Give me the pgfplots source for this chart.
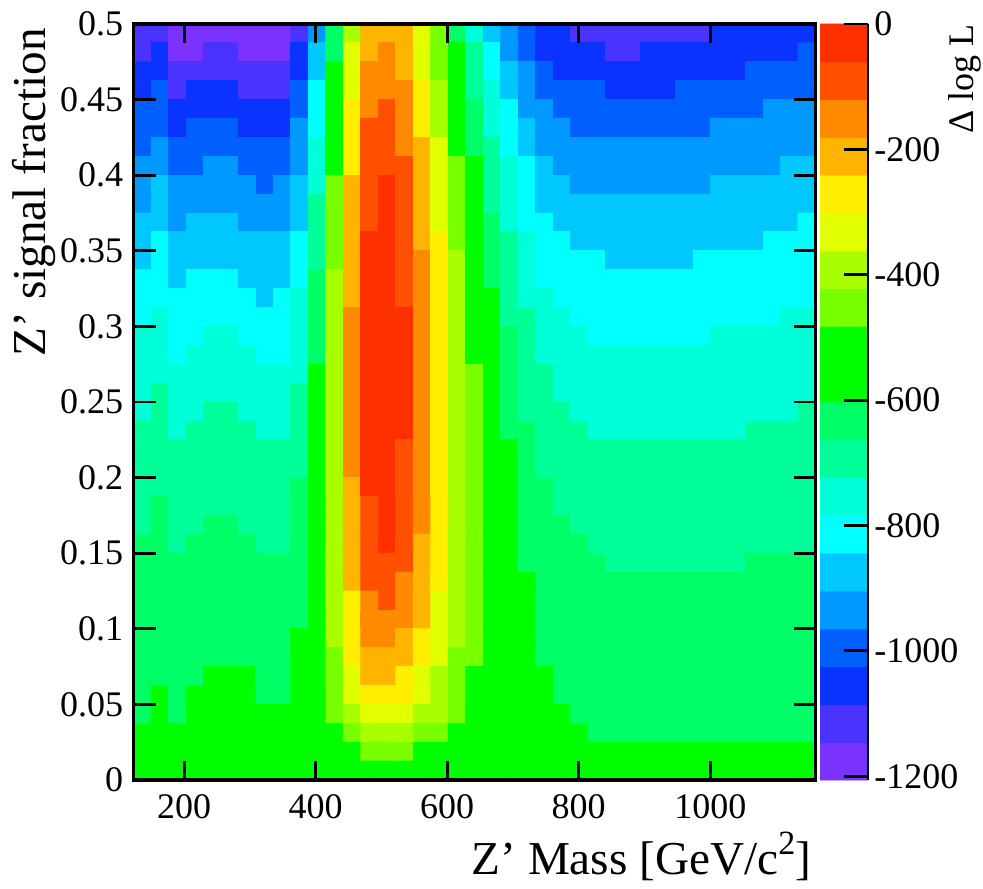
\documentclass[border=0pt]{standalone}
\usepackage{fontspec}
\setmainfont{Liberation Serif}
\usepackage{pgfplots}
\pgfplotsset{compat=1.18}
\newcommand{\ticksize}{\fontsize{18}{20}\selectfont}
\newcommand{\labelsize}{\fontsize{23.6}{26}\selectfont}
\pgfplotsset{
  dllmap/.style={
    colormap={dll}{
      rgb255=(122,51,255) rgb255=(74,51,255) rgb255=(10,51,255) rgb255=(0,95,255)
      rgb255=(0,153,255) rgb255=(0,200,255) rgb255=(0,255,255) rgb255=(0,255,217)
      rgb255=(0,255,153) rgb255=(0,255,102) rgb255=(0,255,0) rgb255=(0,255,0)
      rgb255=(120,255,0) rgb255=(168,255,0) rgb255=(226,255,0) rgb255=(255,238,0)
      rgb255=(255,180,0) rgb255=(255,138,0) rgb255=(255,80,0) rgb255=(255,48,0)
    },
    colormap access=piecewise constant,
    point meta min=-1206, point meta max=0,
  }
}
\begin{document}
\begin{tikzpicture}
\useasboundingbox (-66.75pt,-54pt) rectangle (424.75pt,390pt);
\begin{axis}[
  dllmap,
  at={(0pt,0pt)}, anchor=south west,
  scale only axis, width=341pt, height=378pt,
  xmin=123, xmax=1160, ymin=0, ymax=0.5,
  axis on top, axis line style={line width=1.7pt},
  tick align=inside, ticks=major,
  xtick={200,400,600,800,1000},
  xticklabels={200,400,600,800,1000},
  ytick={0,0.05,0.1,0.15,0.2,0.25,0.3,0.35,0.4,0.45,0.5},
  yticklabels={0,0.05,0.1,0.15,0.2,0.25,0.3,0.35,0.4,0.45,0.5},
  xtick style={line width=1.6pt, /pgfplots/major tick length=9.5pt, black},
  ytick style={line width=1.4pt, /pgfplots/major tick length=11pt, black},
  xticklabel style={font=\ticksize, inner sep=0pt, yshift=-7pt},
  yticklabel style={font=\ticksize, inner sep=0pt, xshift=-5pt},
  xlabel={Z' Mass [GeV/c\raisebox{0.42em}{\fontsize{17}{18}\selectfont 2}]},
  ylabel={Z' signal fraction},
  every axis x label/.style={at={(axis description cs:1,0)}, anchor=base east, font=\labelsize, xshift=-2pt, yshift=-47pt, inner sep=0pt},
  every axis y label/.style={at={(axis description cs:0,1)}, xshift=-50pt, yshift=-2pt, rotate=90, anchor=east, font=\labelsize, inner sep=0pt},
]
\addplot[matrix plot*, mesh/cols=39, point meta=explicit] table[
  row sep=\\, header=false,
  x expr={123+(1037/39)*(mod(\coordindex+0.5,39))},
  y expr={0.5-0.0125*(floor((\coordindex+0.5)/39)+0.5)},
  meta index=0] {
-1116\\-1116\\-1176\\-1176\\-1176\\-1176\\-1176\\-1176\\-1176\\-1116\\-935\\-633\\-392\\-211\\-211\\-211\\-332\\-452\\-633\\-754\\-874\\-935\\-995\\-1055\\-1055\\-1116\\-1116\\-1116\\-1116\\-1116\\-1116\\-1116\\-1116\\-1055\\-1055\\-1055\\-1055\\-1055\\-1055\\
-1116\\-1055\\-1176\\-1176\\-1116\\-1116\\-1176\\-1176\\-1176\\-1055\\-874\\-633\\-332\\-211\\-151\\-211\\-332\\-452\\-573\\-693\\-814\\-935\\-995\\-1055\\-1055\\-1055\\-1055\\-1116\\-1116\\-1055\\-1055\\-1055\\-1055\\-1055\\-1055\\-1055\\-1055\\-1055\\-995\\
-1055\\-1055\\-1116\\-1116\\-1116\\-1116\\-1116\\-1116\\-1116\\-1055\\-874\\-573\\-332\\-151\\-151\\-211\\-332\\-452\\-573\\-693\\-814\\-874\\-935\\-995\\-1055\\-1055\\-1055\\-1055\\-1055\\-1055\\-1055\\-1055\\-1055\\-1055\\-1055\\-995\\-995\\-995\\-995\\
-1055\\-995\\-1116\\-1055\\-1055\\-1055\\-1116\\-1116\\-1116\\-995\\-814\\-573\\-332\\-151\\-151\\-151\\-271\\-392\\-573\\-693\\-754\\-874\\-935\\-995\\-995\\-995\\-995\\-1055\\-1055\\-1055\\-1055\\-995\\-995\\-995\\-995\\-995\\-995\\-995\\-995\\
-995\\-995\\-1055\\-1055\\-1055\\-1055\\-1055\\-1055\\-1055\\-995\\-814\\-573\\-271\\-151\\-90\\-151\\-271\\-392\\-573\\-633\\-754\\-814\\-935\\-935\\-995\\-995\\-995\\-995\\-995\\-995\\-995\\-995\\-995\\-995\\-995\\-995\\-935\\-935\\-935\\
-995\\-995\\-1055\\-995\\-995\\-995\\-1055\\-1055\\-1055\\-935\\-814\\-573\\-271\\-90\\-90\\-151\\-271\\-392\\-573\\-633\\-754\\-814\\-874\\-935\\-935\\-995\\-995\\-995\\-995\\-995\\-995\\-995\\-995\\-935\\-935\\-935\\-935\\-935\\-935\\
-995\\-935\\-995\\-995\\-995\\-995\\-995\\-995\\-995\\-935\\-754\\-573\\-271\\-90\\-90\\-151\\-211\\-332\\-573\\-633\\-693\\-814\\-874\\-935\\-935\\-935\\-935\\-935\\-935\\-935\\-935\\-935\\-935\\-935\\-935\\-935\\-935\\-935\\-935\\
-935\\-935\\-995\\-995\\-935\\-935\\-995\\-995\\-995\\-935\\-754\\-573\\-271\\-90\\-90\\-90\\-211\\-332\\-452\\-573\\-693\\-754\\-814\\-874\\-935\\-935\\-935\\-935\\-935\\-935\\-935\\-935\\-935\\-935\\-935\\-935\\-935\\-874\\-874\\
-935\\-874\\-935\\-935\\-935\\-935\\-935\\-995\\-935\\-874\\-754\\-452\\-211\\-90\\-30\\-90\\-211\\-332\\-452\\-573\\-693\\-754\\-814\\-874\\-874\\-935\\-935\\-935\\-935\\-935\\-935\\-935\\-935\\-874\\-874\\-874\\-874\\-874\\-874\\
-935\\-874\\-935\\-935\\-935\\-935\\-935\\-935\\-935\\-874\\-693\\-452\\-211\\-90\\-30\\-90\\-211\\-332\\-452\\-573\\-693\\-754\\-814\\-874\\-874\\-874\\-874\\-874\\-874\\-874\\-874\\-874\\-874\\-874\\-874\\-874\\-874\\-874\\-874\\
-874\\-874\\-935\\-874\\-874\\-874\\-935\\-935\\-935\\-874\\-693\\-452\\-211\\-90\\-30\\-90\\-211\\-332\\-452\\-573\\-633\\-754\\-814\\-814\\-874\\-874\\-874\\-874\\-874\\-874\\-874\\-874\\-874\\-874\\-874\\-874\\-874\\-874\\-814\\
-874\\-814\\-874\\-874\\-874\\-874\\-874\\-874\\-874\\-814\\-693\\-452\\-211\\-30\\-30\\-90\\-211\\-271\\-452\\-573\\-633\\-693\\-754\\-814\\-814\\-874\\-874\\-874\\-874\\-874\\-874\\-874\\-874\\-874\\-874\\-874\\-814\\-814\\-814\\
-874\\-814\\-874\\-874\\-874\\-874\\-874\\-874\\-874\\-814\\-693\\-452\\-211\\-30\\-30\\-90\\-151\\-271\\-392\\-573\\-633\\-693\\-754\\-814\\-814\\-814\\-814\\-874\\-874\\-874\\-874\\-874\\-814\\-814\\-814\\-814\\-814\\-814\\-814\\
-814\\-814\\-874\\-814\\-814\\-814\\-874\\-874\\-874\\-814\\-633\\-392\\-211\\-30\\-30\\-90\\-151\\-271\\-392\\-573\\-633\\-693\\-754\\-814\\-814\\-814\\-814\\-814\\-814\\-814\\-814\\-814\\-814\\-814\\-814\\-814\\-814\\-814\\-814\\
-814\\-814\\-814\\-814\\-814\\-814\\-814\\-874\\-814\\-754\\-633\\-392\\-211\\-30\\-30\\-90\\-151\\-271\\-392\\-573\\-573\\-693\\-754\\-754\\-814\\-814\\-814\\-814\\-814\\-814\\-814\\-814\\-814\\-814\\-814\\-814\\-814\\-814\\-814\\
-814\\-754\\-814\\-814\\-814\\-814\\-814\\-814\\-814\\-754\\-633\\-392\\-151\\-30\\-30\\-30\\-151\\-271\\-392\\-573\\-573\\-693\\-693\\-754\\-754\\-814\\-814\\-814\\-814\\-814\\-814\\-814\\-814\\-814\\-814\\-814\\-814\\-754\\-754\\
-754\\-754\\-814\\-814\\-754\\-754\\-814\\-814\\-814\\-754\\-633\\-392\\-151\\-30\\-30\\-30\\-151\\-271\\-392\\-573\\-573\\-633\\-693\\-754\\-754\\-754\\-814\\-814\\-814\\-814\\-814\\-814\\-814\\-754\\-754\\-754\\-754\\-754\\-754\\
-754\\-754\\-814\\-754\\-754\\-754\\-754\\-814\\-814\\-754\\-633\\-392\\-151\\-30\\-30\\-30\\-151\\-271\\-392\\-573\\-573\\-633\\-693\\-754\\-754\\-754\\-754\\-754\\-754\\-754\\-754\\-754\\-754\\-754\\-754\\-754\\-754\\-754\\-754\\
-754\\-754\\-754\\-754\\-754\\-754\\-754\\-754\\-754\\-754\\-573\\-392\\-151\\-30\\-30\\-30\\-151\\-271\\-392\\-452\\-573\\-633\\-693\\-693\\-754\\-754\\-754\\-754\\-754\\-754\\-754\\-754\\-754\\-754\\-754\\-754\\-754\\-754\\-754\\
-754\\-693\\-754\\-754\\-754\\-754\\-754\\-754\\-754\\-693\\-573\\-392\\-151\\-30\\-30\\-30\\-151\\-271\\-392\\-452\\-573\\-633\\-693\\-693\\-754\\-754\\-754\\-754\\-754\\-754\\-754\\-754\\-754\\-754\\-754\\-754\\-754\\-754\\-754\\
-754\\-693\\-754\\-754\\-693\\-693\\-754\\-754\\-754\\-693\\-573\\-392\\-151\\-30\\-30\\-30\\-151\\-271\\-392\\-452\\-573\\-633\\-693\\-693\\-693\\-754\\-754\\-754\\-754\\-754\\-754\\-754\\-754\\-754\\-754\\-754\\-754\\-754\\-693\\
-693\\-693\\-754\\-693\\-693\\-693\\-693\\-754\\-754\\-693\\-573\\-392\\-151\\-30\\-30\\-30\\-151\\-271\\-392\\-452\\-573\\-633\\-633\\-693\\-693\\-693\\-754\\-754\\-754\\-754\\-754\\-754\\-754\\-754\\-754\\-693\\-693\\-693\\-693\\
-693\\-693\\-693\\-693\\-693\\-693\\-693\\-693\\-693\\-693\\-573\\-392\\-151\\-30\\-30\\-90\\-151\\-271\\-392\\-452\\-573\\-573\\-633\\-693\\-693\\-693\\-693\\-693\\-693\\-693\\-693\\-693\\-693\\-693\\-693\\-693\\-693\\-693\\-693\\
-693\\-693\\-693\\-693\\-693\\-693\\-693\\-693\\-693\\-693\\-573\\-392\\-151\\-30\\-30\\-90\\-151\\-271\\-392\\-452\\-573\\-573\\-633\\-693\\-693\\-693\\-693\\-693\\-693\\-693\\-693\\-693\\-693\\-693\\-693\\-693\\-693\\-693\\-693\\
-693\\-693\\-693\\-693\\-693\\-693\\-693\\-693\\-693\\-633\\-573\\-392\\-211\\-30\\-30\\-90\\-151\\-271\\-392\\-452\\-573\\-573\\-633\\-633\\-693\\-693\\-693\\-693\\-693\\-693\\-693\\-693\\-693\\-693\\-693\\-693\\-693\\-693\\-693\\
-693\\-633\\-693\\-693\\-693\\-693\\-693\\-693\\-693\\-633\\-573\\-392\\-211\\-90\\-30\\-90\\-151\\-271\\-392\\-452\\-573\\-573\\-633\\-633\\-693\\-693\\-693\\-693\\-693\\-693\\-693\\-693\\-693\\-693\\-693\\-693\\-693\\-693\\-693\\
-693\\-633\\-693\\-693\\-633\\-633\\-693\\-693\\-693\\-633\\-573\\-392\\-211\\-90\\-30\\-90\\-151\\-271\\-392\\-452\\-573\\-573\\-633\\-633\\-633\\-693\\-693\\-693\\-693\\-693\\-693\\-693\\-693\\-693\\-693\\-693\\-693\\-693\\-693\\
-633\\-633\\-693\\-633\\-633\\-633\\-633\\-693\\-693\\-633\\-573\\-392\\-211\\-90\\-30\\-90\\-211\\-271\\-392\\-452\\-573\\-573\\-633\\-633\\-633\\-633\\-693\\-693\\-693\\-693\\-693\\-693\\-693\\-693\\-693\\-693\\-693\\-693\\-693\\
-633\\-633\\-633\\-633\\-633\\-633\\-633\\-633\\-633\\-633\\-573\\-392\\-211\\-90\\-90\\-90\\-211\\-271\\-392\\-452\\-573\\-573\\-633\\-633\\-633\\-633\\-633\\-693\\-693\\-693\\-693\\-693\\-693\\-693\\-693\\-633\\-633\\-633\\-633\\
-633\\-633\\-633\\-633\\-633\\-633\\-633\\-633\\-633\\-633\\-573\\-392\\-211\\-90\\-90\\-151\\-211\\-271\\-392\\-452\\-573\\-573\\-573\\-633\\-633\\-633\\-633\\-633\\-633\\-633\\-633\\-633\\-633\\-633\\-633\\-633\\-633\\-633\\-633\\
-633\\-633\\-633\\-633\\-633\\-633\\-633\\-633\\-633\\-633\\-573\\-392\\-271\\-151\\-90\\-151\\-211\\-332\\-392\\-452\\-573\\-573\\-573\\-633\\-633\\-633\\-633\\-633\\-633\\-633\\-633\\-633\\-633\\-633\\-633\\-633\\-633\\-633\\-633\\
-633\\-633\\-633\\-633\\-633\\-633\\-633\\-633\\-633\\-633\\-573\\-392\\-271\\-151\\-151\\-151\\-211\\-332\\-392\\-452\\-573\\-573\\-573\\-633\\-633\\-633\\-633\\-633\\-633\\-633\\-633\\-633\\-633\\-633\\-633\\-633\\-633\\-633\\-633\\
-633\\-633\\-633\\-633\\-633\\-633\\-633\\-633\\-633\\-573\\-573\\-392\\-271\\-151\\-151\\-211\\-271\\-332\\-392\\-452\\-573\\-573\\-573\\-633\\-633\\-633\\-633\\-633\\-633\\-633\\-633\\-633\\-633\\-633\\-633\\-633\\-633\\-633\\-633\\
-633\\-633\\-633\\-633\\-633\\-633\\-633\\-633\\-633\\-573\\-573\\-452\\-271\\-211\\-211\\-211\\-271\\-332\\-452\\-452\\-573\\-573\\-573\\-633\\-633\\-633\\-633\\-633\\-633\\-633\\-633\\-633\\-633\\-633\\-633\\-633\\-633\\-633\\-633\\
-633\\-633\\-633\\-633\\-573\\-573\\-573\\-633\\-633\\-573\\-573\\-452\\-332\\-211\\-211\\-271\\-332\\-392\\-452\\-573\\-573\\-573\\-573\\-573\\-633\\-633\\-633\\-633\\-633\\-633\\-633\\-633\\-633\\-633\\-633\\-633\\-633\\-633\\-633\\
-633\\-573\\-633\\-573\\-573\\-573\\-573\\-633\\-633\\-573\\-573\\-452\\-332\\-271\\-271\\-271\\-332\\-392\\-452\\-573\\-573\\-573\\-573\\-573\\-633\\-633\\-633\\-633\\-633\\-633\\-633\\-633\\-633\\-633\\-633\\-633\\-633\\-633\\-633\\
-633\\-573\\-633\\-573\\-573\\-573\\-573\\-573\\-573\\-573\\-573\\-452\\-392\\-332\\-332\\-332\\-392\\-392\\-452\\-573\\-573\\-573\\-573\\-573\\-573\\-633\\-633\\-633\\-633\\-633\\-633\\-633\\-633\\-633\\-633\\-633\\-633\\-633\\-633\\
-573\\-573\\-573\\-573\\-573\\-573\\-573\\-573\\-573\\-573\\-573\\-573\\-452\\-392\\-392\\-392\\-452\\-452\\-573\\-573\\-573\\-573\\-573\\-573\\-573\\-573\\-633\\-633\\-633\\-633\\-633\\-633\\-633\\-633\\-633\\-633\\-633\\-633\\-633\\
-573\\-573\\-573\\-573\\-573\\-573\\-573\\-573\\-573\\-573\\-573\\-573\\-573\\-452\\-452\\-452\\-573\\-573\\-573\\-573\\-573\\-573\\-573\\-573\\-573\\-573\\-573\\-573\\-573\\-573\\-573\\-573\\-573\\-573\\-573\\-573\\-573\\-573\\-573\\
-573\\-573\\-573\\-573\\-573\\-573\\-573\\-573\\-573\\-573\\-573\\-573\\-573\\-573\\-573\\-573\\-573\\-573\\-573\\-573\\-573\\-573\\-573\\-573\\-573\\-573\\-573\\-573\\-573\\-573\\-573\\-573\\-573\\-573\\-573\\-573\\-573\\-573\\-573\\
};
\end{axis}
\begin{axis}[
  dllmap,
  at={(343.25pt,0pt)}, anchor=south west,
  scale only axis, width=24pt, height=378pt,
  xmin=0, xmax=1, ymin=-1206, ymax=0,
  axis x line=none, axis y line=right,
  axis on top, axis line style={line width=1.4pt, -},
  tick align=inside, ticks=major,
  ytick={-1200,-1000,-800,-600,-400,-200,0},
  yticklabels={-1200,-1000,-800,-600,-400,-200,0},
  ytick style={line width=1.4pt, /pgfplots/major tick length=12pt, black},
  yticklabel style={font=\ticksize, inner sep=0pt, xshift=3pt, anchor=west},
  ylabel={Δ log L},
  every axis y label/.style={at={(axis description cs:1,1)}, xshift=48.5pt, yshift=0pt, rotate=90, anchor=east, font=\ticksize, inner sep=0pt},
]
\addplot[matrix plot*, mesh/cols=2, point meta=explicit] table[meta=z] {
x y z
0.25 -1176 -1176
0.75 -1176 -1176
0.25 -1116 -1116
0.75 -1116 -1116
0.25 -1055 -1055
0.75 -1055 -1055
0.25 -995 -995
0.75 -995 -995
0.25 -935 -935
0.75 -935 -935
0.25 -874 -874
0.75 -874 -874
0.25 -814 -814
0.75 -814 -814
0.25 -754 -754
0.75 -754 -754
0.25 -693 -693
0.75 -693 -693
0.25 -633 -633
0.75 -633 -633
0.25 -573 -573
0.75 -573 -573
0.25 -512 -512
0.75 -512 -512
0.25 -452 -452
0.75 -452 -452
0.25 -392 -392
0.75 -392 -392
0.25 -332 -332
0.75 -332 -332
0.25 -271 -271
0.75 -271 -271
0.25 -211 -211
0.75 -211 -211
0.25 -151 -151
0.75 -151 -151
0.25 -90 -90
0.75 -90 -90
0.25 -30 -30
0.75 -30 -30
};
\end{axis}
\end{tikzpicture}
\end{document}
